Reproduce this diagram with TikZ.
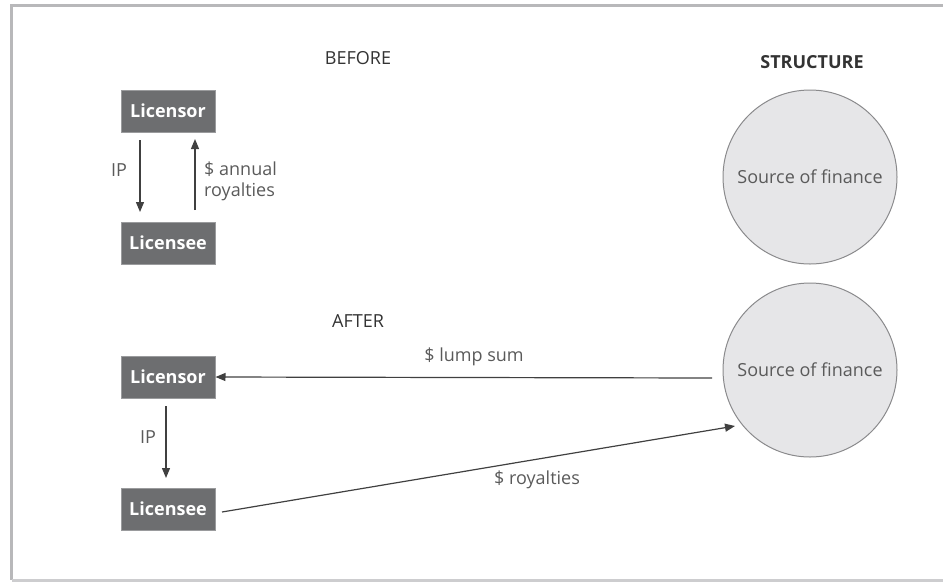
\documentclass[tikz,border=0pt]{standalone}
\usepackage{fontspec}
\setmainfont{Open Sans}
\usetikzlibrary{arrows.meta}
\definecolor{boxgray}{HTML}{6D6E70}
\definecolor{boxedge}{HTML}{9A9B9D}
\definecolor{txtgray}{HTML}{5A5A5A}
\definecolor{circfill}{HTML}{E6E6E8}
\definecolor{circedge}{HTML}{8A8A8C}
\definecolor{framegray}{HTML}{B8B8BA}
\tikzset{
  x=1pt, y=-1pt,
  party/.style={draw=boxedge, line width=1pt, fill=boxgray, text=white,
    font=\fontsize{18}{20}\selectfont\bfseries, minimum width=94pt, minimum height=42pt, inner sep=0pt},
  fin/.style={circle, draw=circedge, line width=1pt, fill=circfill, minimum size=174pt,
    text=txtgray, font=\fontsize{18}{20}\selectfont, inner sep=0pt},
  lbl/.style={text=txtgray, font=\fontsize{18}{21}\selectfont, inner sep=1pt},
  heading/.style={text=black!80, font=\fontsize{18}{20}\selectfont},
  flow/.style={draw=black!75, line width=1.2pt, -{Triangle[length=10pt,width=8pt]}},
}
\begin{document}
\begin{tikzpicture}
\useasboundingbox (0,0) rectangle (943,582);
% frame
\draw[framegray, line width=3pt] (943,5) -- (11.5,5) -- (11.5,580);
\draw[framegray!70, line width=3pt] (11.5,580) -- (943,580);
% headings
\node[heading] (before) at (358,58) {BEFORE};
\node[heading] (after) at (358,321) {AFTER};
\node[heading, font=\fontsize{18}{20}\selectfont\bfseries] (structure) at (812,62) {STRUCTURE};
% before
\node[party] (lor1) at (168,111) {Licensor};
\node[party] (lee1) at (168,243) {Licensee};
\coordinate (a1s) at (140,140);
\coordinate (a1e) at (140,212);
\coordinate (a2s) at (195,210);
\coordinate (a2e) at (195,139);
\draw[flow] (a1s) -- (a1e);
\draw[flow] (a2s) -- (a2e);
\node[lbl] (ip1) at (119,170) {IP};
\node[lbl, align=left, anchor=west] (roy1) at (203,181) {\$ annual\\royalties};
\node[fin] (sf1) at (810,177) {Source of finance};
% after
\node[party] (lor2) at (168,377) {Licensor};
\node[party] (lee2) at (168,509) {Licensee};
\node[fin] (sf2) at (810,370) {Source of finance};
\coordinate (b1s) at (166,406);
\coordinate (b1e) at (166,478);
\draw[flow] (b1s) -- (b1e);
\node[lbl] (ip2) at (148,437) {IP};
\coordinate (lumpstart) at (712,378);
\draw[flow] (lumpstart) -- (lor2.east);
\node[lbl] (lump) at (474,357) {\$ lump sum};
\coordinate (roystart) at (222,512);
\coordinate (royend) at (735,426);
\draw[flow] (roystart) -- (royend);
\node[lbl] (roy2) at (537,480) {\$ royalties};
\end{tikzpicture}
\end{document}
